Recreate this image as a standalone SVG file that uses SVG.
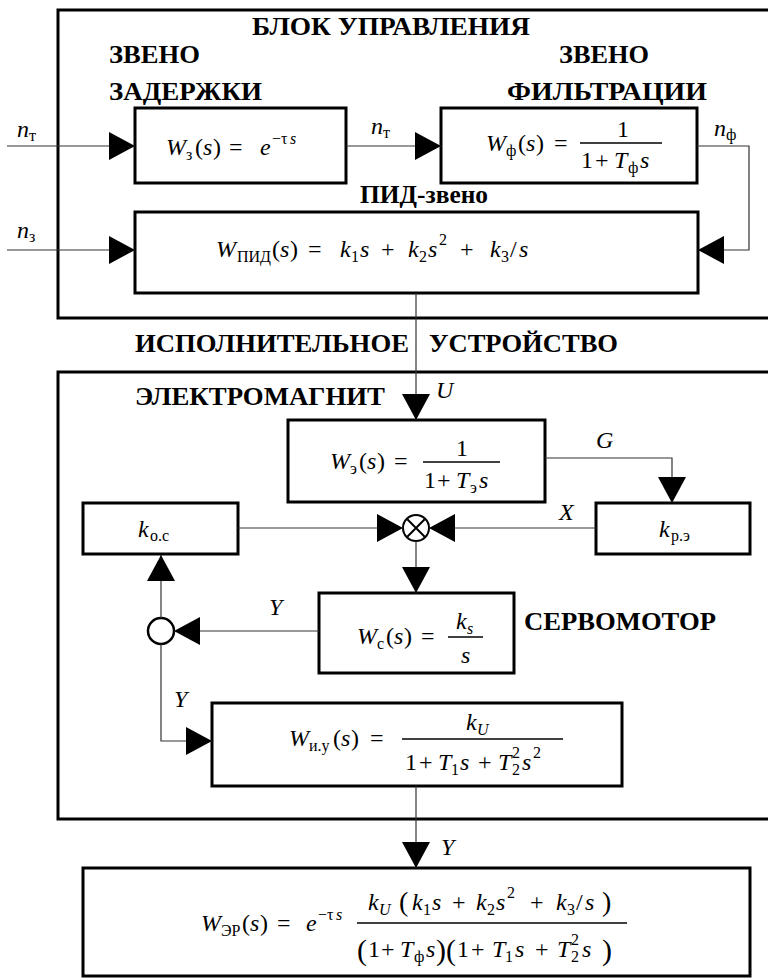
<svg xmlns="http://www.w3.org/2000/svg" width="768" height="980" viewBox="0 0 768 980">
<defs>
<marker id="ar" viewBox="0 0 26 28" refX="26" refY="14" markerWidth="26" markerHeight="28" markerUnits="userSpaceOnUse" orient="auto"><path d="M0,0 L26,14 L0,28 Z" fill="#000"/></marker>
</defs>
<rect width="768" height="980" fill="#fff"/>

<g id="frame-control">
<rect x="58" y="10" width="760" height="308" fill="none" stroke="#000" stroke-width="3"/>
<text font-family="Liberation Serif, serif" style="font-family:'Liberation Serif',serif !important" font-weight="bold" font-size="26" x="252" y="35" textLength="278" lengthAdjust="spacingAndGlyphs">БЛОК УПРАВЛЕНИЯ</text>
<text font-family="Liberation Serif, serif" style="font-family:'Liberation Serif',serif !important" font-weight="bold" font-size="26" x="109" y="63" textLength="91" lengthAdjust="spacingAndGlyphs">ЗВЕНО</text>
<text font-family="Liberation Serif, serif" style="font-family:'Liberation Serif',serif !important" font-weight="bold" font-size="26" x="109" y="100" textLength="153" lengthAdjust="spacingAndGlyphs">ЗАДЕРЖКИ</text>
<text font-family="Liberation Serif, serif" style="font-family:'Liberation Serif',serif !important" font-weight="bold" font-size="26" x="559" y="63" textLength="90" lengthAdjust="spacingAndGlyphs">ЗВЕНО</text>
<text font-family="Liberation Serif, serif" style="font-family:'Liberation Serif',serif !important" font-weight="bold" font-size="26" x="507" y="100" textLength="200" lengthAdjust="spacingAndGlyphs">ФИЛЬТРАЦИИ</text>
<text font-family="Liberation Serif, serif" style="font-family:'Liberation Serif',serif !important" font-weight="bold" font-size="26" x="360" y="203" textLength="128" lengthAdjust="spacingAndGlyphs">ПИД-звено</text>
</g>

<g id="frame-actuator">
<rect x="58" y="372" width="760" height="447" fill="none" stroke="#000" stroke-width="3"/>
<text font-family="Liberation Serif, serif" style="font-family:'Liberation Serif',serif !important" font-weight="bold" font-size="26" x="135" y="352" textLength="274" lengthAdjust="spacingAndGlyphs">ИСПОЛНИТЕЛЬНОЕ</text>
<text font-family="Liberation Serif, serif" style="font-family:'Liberation Serif',serif !important" font-weight="bold" font-size="26" x="429" y="352" textLength="189" lengthAdjust="spacingAndGlyphs">УСТРОЙСТВО</text>
<text font-family="Liberation Serif, serif" style="font-family:'Liberation Serif',serif !important" font-weight="bold" font-size="26" x="135" y="405" textLength="250" lengthAdjust="spacingAndGlyphs">ЭЛЕКТРОМАГНИТ</text>
<text font-family="Liberation Serif, serif" style="font-family:'Liberation Serif',serif !important" font-weight="bold" font-size="26" x="524" y="630" textLength="192" lengthAdjust="spacingAndGlyphs">СЕРВОМОТОР</text>
</g>

<g id="delay">
<rect x="135" y="108" width="211" height="75" fill="#fff" stroke="#000" stroke-width="3"/>
<text font-family="Liberation Serif, serif" style="font-family:'Liberation Serif',serif !important" font-size="24"><tspan x="166" y="155" font-style="italic">W</tspan><tspan x="186" y="160" font-size="16">з</tspan><tspan x="195" y="155">(</tspan><tspan x="203" y="155" font-style="italic">s</tspan><tspan x="213" y="155">)</tspan><tspan x="229" y="155">=</tspan><tspan x="260" y="155" font-style="italic">e</tspan><tspan x="272" y="144" font-size="16">−τ</tspan><tspan x="290" y="144" font-size="16" font-style="italic">s</tspan></text>
</g>

<g id="filter">
<rect x="441" y="108" width="256" height="75" fill="#fff" stroke="#000" stroke-width="3"/>
<text font-family="Liberation Serif, serif" style="font-family:'Liberation Serif',serif !important" font-size="24"><tspan x="486" y="151" font-style="italic">W</tspan><tspan x="506" y="156" font-size="16">ф</tspan><tspan x="518" y="151">(</tspan><tspan x="526" y="151" font-style="italic">s</tspan><tspan x="536" y="151">)</tspan><tspan x="554" y="151">=</tspan><tspan x="617" y="137">1</tspan><tspan x="581" y="168">1</tspan><tspan x="595" y="168">+</tspan><tspan x="614" y="168" font-style="italic">T</tspan><tspan x="628" y="173" font-size="16">ф</tspan><tspan x="640" y="168" font-style="italic">s</tspan></text>
<line x1="580" y1="143" x2="662" y2="143" stroke="#000" stroke-width="1.3"/>
</g>

<g id="pid">
<rect x="135" y="212" width="563" height="81" fill="#fff" stroke="#000" stroke-width="3"/>
<text font-family="Liberation Serif, serif" style="font-family:'Liberation Serif',serif !important" font-size="24"><tspan x="216" y="257" font-style="italic">W</tspan><tspan x="237" y="262" font-size="16">ПИД</tspan><tspan x="272" y="257">(</tspan><tspan x="280" y="257" font-style="italic">s</tspan><tspan x="290" y="257">)</tspan><tspan x="308" y="257">=</tspan><tspan x="340" y="257" font-style="italic">k</tspan><tspan x="351" y="262" font-size="16">1</tspan><tspan x="360" y="257" font-style="italic">s</tspan><tspan x="381" y="257">+</tspan><tspan x="408" y="257" font-style="italic">k</tspan><tspan x="419" y="262" font-size="16">2</tspan><tspan x="428" y="257" font-style="italic">s</tspan><tspan x="439" y="245" font-size="16">2</tspan><tspan x="460" y="257">+</tspan><tspan x="490" y="257" font-style="italic">k</tspan><tspan x="501" y="262" font-size="16">3</tspan><tspan x="510" y="257">/</tspan><tspan x="519" y="257" font-style="italic">s</tspan></text>
</g>

<g id="electromagnet">
<rect x="288" y="420" width="257" height="82" fill="#fff" stroke="#000" stroke-width="3"/>
<text font-family="Liberation Serif, serif" style="font-family:'Liberation Serif',serif !important" font-size="24"><tspan x="330" y="469" font-style="italic">W</tspan><tspan x="350" y="474" font-size="16">э</tspan><tspan x="359" y="469">(</tspan><tspan x="367" y="469" font-style="italic">s</tspan><tspan x="377" y="469">)</tspan><tspan x="394" y="469">=</tspan><tspan x="456" y="456">1</tspan><tspan x="424" y="488">1</tspan><tspan x="437" y="488">+</tspan><tspan x="456" y="488" font-style="italic">T</tspan><tspan x="470" y="493" font-size="16">э</tspan><tspan x="479" y="488" font-style="italic">s</tspan></text>
<line x1="423" y1="462" x2="500" y2="462" stroke="#000" stroke-width="1.3"/>
</g>

<g id="feedback-gain">
<rect x="83" y="503" width="155" height="51" fill="#fff" stroke="#000" stroke-width="3"/>
<text font-family="Liberation Serif, serif" style="font-family:'Liberation Serif',serif !important" font-size="24"><tspan x="138" y="537" font-style="italic">k</tspan><tspan x="150" y="541" font-size="16">о.с</tspan></text>
</g>

<g id="relay-gain">
<rect x="596" y="503" width="154" height="51" fill="#fff" stroke="#000" stroke-width="3"/>
<text font-family="Liberation Serif, serif" style="font-family:'Liberation Serif',serif !important" font-size="24"><tspan x="659" y="537" font-style="italic">k</tspan><tspan x="671" y="541" font-size="16">р.э</tspan></text>
</g>

<g id="multiplier">
<circle cx="416" cy="528" r="13" fill="#fff" stroke="#000" stroke-width="2"/>
<path d="M406.8,518.8 L425.2,537.2 M425.2,518.8 L406.8,537.2" stroke="#000" stroke-width="2"/>
</g>

<g id="servo">
<rect x="319" y="593" width="195" height="80" fill="#fff" stroke="#000" stroke-width="3"/>
<text font-family="Liberation Serif, serif" style="font-family:'Liberation Serif',serif !important" font-size="24"><tspan x="357" y="644" font-style="italic">W</tspan><tspan x="377" y="649" font-size="16">с</tspan><tspan x="386" y="644">(</tspan><tspan x="394" y="644" font-style="italic">s</tspan><tspan x="404" y="644">)</tspan><tspan x="421" y="644">=</tspan><tspan x="456" y="629" font-style="italic">k</tspan><tspan x="467" y="634" font-size="16" font-style="italic">s</tspan><tspan x="461" y="663" font-style="italic">s</tspan></text>
<line x1="448" y1="637" x2="483" y2="637" stroke="#000" stroke-width="1.3"/>
</g>

<g id="junction">
<circle cx="161" cy="631" r="13" fill="#fff" stroke="#000" stroke-width="2.5"/>
</g>

<g id="actuator">
<rect x="212" y="703" width="410" height="83" fill="#fff" stroke="#000" stroke-width="3"/>
<text font-family="Liberation Serif, serif" style="font-family:'Liberation Serif',serif !important" font-size="24"><tspan x="289" y="746" font-style="italic">W</tspan><tspan x="309" y="751" font-size="16">и.у</tspan><tspan x="333" y="746">(</tspan><tspan x="341" y="746" font-style="italic">s</tspan><tspan x="351" y="746">)</tspan><tspan x="370" y="746">=</tspan><tspan x="466" y="730" font-style="italic">k</tspan><tspan x="477" y="735" font-size="16" font-style="italic">U</tspan><tspan x="405" y="770">1</tspan><tspan x="419" y="770">+</tspan><tspan x="438" y="770" font-style="italic">T</tspan><tspan x="451" y="775" font-size="16">1</tspan><tspan x="460" y="770" font-style="italic">s</tspan><tspan x="478" y="770">+</tspan><tspan x="498" y="770" font-style="italic">T</tspan><tspan x="512" y="775" font-size="16">2</tspan><tspan x="512" y="758" font-size="16">2</tspan><tspan x="522" y="770" font-style="italic">s</tspan><tspan x="533" y="758" font-size="16">2</tspan></text>
<line x1="402" y1="739" x2="563" y2="739" stroke="#000" stroke-width="1.3"/>
</g>

<g id="total">
<rect x="83" y="868" width="667" height="108" fill="#fff" stroke="#000" stroke-width="3"/>
<text font-family="Liberation Serif, serif" style="font-family:'Liberation Serif',serif !important" font-size="24"><tspan x="201" y="931" font-style="italic">W</tspan><tspan x="221" y="936" font-size="16">ЭР</tspan><tspan x="242" y="931">(</tspan><tspan x="250" y="931" font-style="italic">s</tspan><tspan x="260" y="931">)</tspan><tspan x="277" y="931">=</tspan><tspan x="306" y="931" font-style="italic">e</tspan><tspan x="318" y="920" font-size="16">−τ</tspan><tspan x="336" y="920" font-size="16" font-style="italic">s</tspan>
<tspan x="368" y="910" font-style="italic">k</tspan><tspan x="379" y="915" font-size="16" font-style="italic">U</tspan><tspan x="399" y="911" font-size="28">(</tspan><tspan x="412" y="910" font-style="italic">k</tspan><tspan x="423" y="915" font-size="16">1</tspan><tspan x="432" y="910" font-style="italic">s</tspan><tspan x="452" y="910">+</tspan><tspan x="476" y="910" font-style="italic">k</tspan><tspan x="487" y="915" font-size="16">2</tspan><tspan x="496" y="910" font-style="italic">s</tspan><tspan x="507" y="898" font-size="16">2</tspan><tspan x="530" y="910">+</tspan><tspan x="556" y="910" font-style="italic">k</tspan><tspan x="567" y="915" font-size="16">3</tspan><tspan x="576" y="910">/</tspan><tspan x="585" y="910" font-style="italic">s</tspan><tspan x="602" y="911" font-size="28">)</tspan>
<tspan x="357" y="960" font-size="30">(</tspan><tspan x="368" y="957">1</tspan><tspan x="381" y="957">+</tspan><tspan x="400" y="957" font-style="italic">T</tspan><tspan x="414" y="962" font-size="16">ф</tspan><tspan x="426" y="957" font-style="italic">s</tspan><tspan x="436" y="960" font-size="30">)</tspan><tspan x="446" y="960" font-size="30">(</tspan><tspan x="457" y="957">1</tspan><tspan x="471" y="957">+</tspan><tspan x="492" y="957" font-style="italic">T</tspan><tspan x="505" y="962" font-size="16">1</tspan><tspan x="515" y="957" font-style="italic">s</tspan><tspan x="535" y="957">+</tspan><tspan x="557" y="957" font-style="italic">T</tspan><tspan x="571" y="962" font-size="16">2</tspan><tspan x="571" y="945" font-size="16">2</tspan><tspan x="582" y="957" font-style="italic">s</tspan><tspan x="602" y="960" font-size="30">)</tspan></text>
<line x1="357" y1="923" x2="627" y2="923" stroke="#000" stroke-width="1.3"/>
</g>

<g id="connectors" fill="none" stroke="#333" stroke-width="1.2">
<path d="M7,146 H135" marker-end="url(#ar)"/>
<path d="M346,146 H441" marker-end="url(#ar)"/>
<path d="M697,146 H749 V250 H698" marker-end="url(#ar)"/>
<path d="M7,250 H135" marker-end="url(#ar)"/>
<path d="M416,293 V420" marker-end="url(#ar)"/>
<path d="M545,458 H672 V503" marker-end="url(#ar)"/>
<path d="M596,528 H429" marker-end="url(#ar)"/>
<path d="M238,528 H403" marker-end="url(#ar)"/>
<path d="M416,541 V593" marker-end="url(#ar)"/>
<path d="M319,631 H174" marker-end="url(#ar)"/>
<path d="M161,618 V555" marker-end="url(#ar)"/>
<path d="M161,644 V741 H212" marker-end="url(#ar)"/>
<path d="M416,786 V868" marker-end="url(#ar)"/>
</g>

<g id="labels">
<text font-family="Liberation Serif, serif" style="font-family:'Liberation Serif',serif !important" font-size="24" font-style="italic" x="17" y="137">n<tspan font-size="16" font-style="normal" dy="4">т</tspan></text>
<text font-family="Liberation Serif, serif" style="font-family:'Liberation Serif',serif !important" font-size="24" font-style="italic" x="371" y="134">n<tspan font-size="16" font-style="normal" dy="4">т</tspan></text>
<text font-family="Liberation Serif, serif" style="font-family:'Liberation Serif',serif !important" font-size="24" font-style="italic" x="714" y="136">n<tspan font-size="16" font-style="normal" dy="4">ф</tspan></text>
<text font-family="Liberation Serif, serif" style="font-family:'Liberation Serif',serif !important" font-size="24" font-style="italic" x="17" y="238">n<tspan font-size="16" font-style="normal" dy="4">з</tspan></text>
<text font-family="Liberation Serif, serif" style="font-family:'Liberation Serif',serif !important" font-size="24" font-style="italic" x="436" y="398">U</text>
<text font-family="Liberation Serif, serif" style="font-family:'Liberation Serif',serif !important" font-size="24" font-style="italic" x="596" y="448">G</text>
<text font-family="Liberation Serif, serif" style="font-family:'Liberation Serif',serif !important" font-size="24" font-style="italic" x="559" y="520">X</text>
<text font-family="Liberation Serif, serif" style="font-family:'Liberation Serif',serif !important" font-size="24" font-style="italic" x="269" y="615">Y</text>
<text font-family="Liberation Serif, serif" style="font-family:'Liberation Serif',serif !important" font-size="24" font-style="italic" x="174" y="707">Y</text>
<text font-family="Liberation Serif, serif" style="font-family:'Liberation Serif',serif !important" font-size="24" font-style="italic" x="441" y="855">Y</text>
</g>
</svg>
